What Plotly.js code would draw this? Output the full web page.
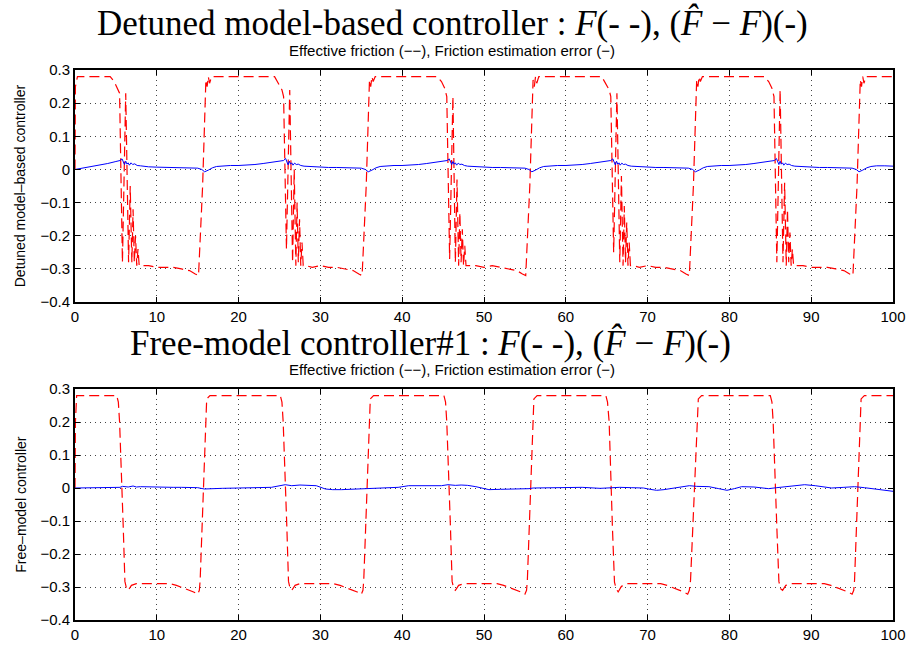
<!DOCTYPE html>
<html>
<head>
<meta charset="utf-8">
<script src="https://cdn.plot.ly/plotly-3.0.1.min.js"></script>
<style>html,body{margin:0;padding:0;background:#fff;}#chart{width:911px;height:647px;}</style>
</head>
<body>
<div id="chart"></div>
<script>
// ---------- Tick definitions ----------
const xTicks = [0, 10, 20, 30, 40, 50, 60, 70, 80, 90, 100];
const xTickText = ['0', '10', '20', '30', '40', '50', '60', '70', '80', '90', '100'];
const yTicks = [-0.4, -0.3, -0.2, -0.1, 0, 0.1, 0.2, 0.3];
const yTickText = ['\u22120.4', '\u22120.3', '\u22120.2', '\u22120.1', '0', '0.1', '0.2', '0.3'];

// ---------- Top: detuned model-based controller, effective friction F (dashed red) ----------
const topFrictionT = [
  0, 0.05, 0.3, 4.3, 4.8, 5.2, 5.45, 5.8, 6.2, 6.55, 6.75, 6.95, 7.1, 7.25, 7.4, 7.55, 7.7, 7.85, 8.1, 9, 10, 11, 12, 13, 14, 14.7, 15.1, 15.6, 16.0, 16.15, 16.3, 16.45, 16.7,
  24.4, 24.9, 25.3, 25.5, 25.85, 26.25, 26.6, 26.8, 27.0, 27.15, 27.3, 27.45, 27.6, 27.75, 27.9, 28.2, 29, 30, 31, 32, 33, 34, 34.7, 35.1, 35.6, 36.0, 36.15, 36.3, 36.45, 36.7,
  44.3, 44.8, 45.2, 45.45, 45.8, 46.2, 46.5, 46.7, 46.9, 47.05, 47.2, 47.35, 47.5, 47.65, 47.8, 48.1, 49, 50, 51, 52, 53, 54, 54.7, 55.1, 55.6, 56.0, 56.15, 56.3, 56.45, 56.7,
  64.4, 64.9, 65.3, 65.5, 65.85, 66.25, 66.6, 66.8, 67.0, 67.15, 67.3, 67.45, 67.6, 67.75, 67.9, 68.2, 69, 70, 71, 72, 73, 74, 74.7, 75.1, 75.6, 76.0, 76.15, 76.3, 76.45, 76.7,
  84.3, 84.8, 85.2, 85.45, 85.8, 86.2, 86.55, 86.75, 86.95, 87.1, 87.25, 87.4, 87.55, 87.7, 87.85, 88.1, 89, 90, 91, 92, 93, 94, 94.7, 95.1, 95.6, 96.0, 96.15, 96.3, 96.45, 96.7, 100
];
const topFrictionF = [
  0, 0.25, 0.28, 0.28, 0.265, 0.245, 0.23, -0.28, 0.23, -0.28, -0.05, -0.28, -0.12, -0.28, -0.2, -0.29, -0.24, -0.29, -0.29, -0.29, -0.295, -0.295, -0.295, -0.3, -0.305, -0.315, -0.32, -0.05, 0.27, 0.25, 0.28, 0.26, 0.28,
  0.28, 0.26, 0.24, 0.22, -0.24, 0.24, -0.28, 0.0, -0.29, -0.1, -0.28, -0.15, -0.29, -0.22, -0.29, -0.29, -0.295, -0.29, -0.295, -0.295, -0.3, -0.305, -0.315, -0.32, -0.05, 0.27, 0.25, 0.28, 0.265, 0.28,
  0.28, 0.265, 0.245, 0.22, -0.27, 0.22, -0.28, -0.03, -0.29, -0.13, -0.28, -0.18, -0.29, -0.23, -0.29, -0.29, -0.29, -0.295, -0.29, -0.295, -0.3, -0.305, -0.315, -0.32, -0.05, 0.27, 0.25, 0.28, 0.26, 0.28,
  0.28, 0.26, 0.24, 0.22, -0.25, 0.23, -0.28, -0.02, -0.29, -0.11, -0.28, -0.16, -0.29, -0.22, -0.29, -0.29, -0.295, -0.29, -0.295, -0.295, -0.3, -0.305, -0.315, -0.32, -0.05, 0.27, 0.25, 0.28, 0.265, 0.28,
  0.28, 0.265, 0.245, 0.22, -0.28, 0.24, -0.28, -0.04, -0.29, -0.12, -0.28, -0.19, -0.29, -0.24, -0.29, -0.29, -0.29, -0.295, -0.295, -0.295, -0.3, -0.305, -0.315, -0.32, -0.05, 0.27, 0.25, 0.28, 0.26, 0.28, 0.28
];

// ---------- Top: friction estimation error (solid blue) ----------
const topErrorT = [
  0, 1, 2, 3, 4, 5, 5.5, 5.75, 5.9, 6.05, 6.2, 6.35, 6.5, 6.65, 6.85, 7.05, 7.3, 7.6, 8, 8.5, 9, 10, 11, 12, 13, 14, 15, 15.5, 15.85, 16.3, 16.8, 17.3, 18, 19, 20,
  21, 22, 23, 24, 25, 25.5, 25.75, 25.9, 26.05, 26.2, 26.35, 26.5, 26.65, 26.85, 27.05, 27.3, 27.6, 28, 29, 30, 31, 32, 33, 34, 35, 35.5, 35.85, 36.3, 36.8, 37.3, 38, 39, 40,
  41, 42, 43, 44, 45, 45.5, 45.75, 45.9, 46.05, 46.2, 46.35, 46.5, 46.65, 46.85, 47.05, 47.3, 47.6, 48, 49, 50, 51, 52, 53, 54, 55, 55.5, 55.85, 56.3, 56.8, 57.3, 58, 59, 60,
  61, 62, 63, 64, 65, 65.5, 65.75, 65.9, 66.05, 66.2, 66.35, 66.5, 66.65, 66.85, 67.05, 67.3, 67.6, 68, 69, 70, 71, 72, 73, 74, 75, 75.5, 75.85, 76.3, 76.8, 77.3, 78, 79, 80,
  81, 82, 83, 84, 85, 85.5, 85.75, 85.9, 86.05, 86.2, 86.35, 86.5, 86.65, 86.85, 87.05, 87.3, 87.6, 88, 89, 90, 91, 92, 93, 94, 95, 95.5, 95.85, 96.3, 96.8, 97.3, 98, 99, 100
];
const topErrorE = [
  0, 0.004, 0.008, 0.013, 0.018, 0.024, 0.027, 0.032, 0.02, 0.015, 0.025, 0.016, 0.02, 0.013, 0.02, 0.015, 0.017, 0.012, 0.011, 0.009, 0.008, 0.007, 0.006, 0.006, 0.005, 0.005, 0.004, 0.0, -0.007, -0.002, 0.005, 0.009, 0.011, 0.012, 0.012,
  0.013, 0.015, 0.018, 0.022, 0.025, 0.027, 0.033, 0.02, 0.014, 0.025, 0.016, 0.02, 0.013, 0.019, 0.015, 0.016, 0.012, 0.01, 0.008, 0.007, 0.006, 0.006, 0.005, 0.005, 0.004, 0.0, -0.007, -0.002, 0.005, 0.009, 0.011, 0.012, 0.012,
  0.013, 0.015, 0.018, 0.022, 0.025, 0.027, 0.032, 0.02, 0.015, 0.024, 0.016, 0.02, 0.013, 0.019, 0.015, 0.016, 0.012, 0.01, 0.008, 0.007, 0.006, 0.006, 0.005, 0.005, 0.004, 0.0, -0.007, -0.002, 0.005, 0.009, 0.011, 0.012, 0.012,
  0.013, 0.015, 0.018, 0.022, 0.025, 0.027, 0.032, 0.02, 0.014, 0.025, 0.016, 0.02, 0.013, 0.019, 0.015, 0.016, 0.012, 0.01, 0.008, 0.007, 0.006, 0.006, 0.005, 0.005, 0.004, 0.0, -0.007, -0.002, 0.005, 0.009, 0.011, 0.012, 0.012,
  0.013, 0.015, 0.018, 0.022, 0.025, 0.027, 0.033, 0.02, 0.015, 0.025, 0.016, 0.02, 0.013, 0.019, 0.015, 0.016, 0.012, 0.01, 0.008, 0.007, 0.006, 0.006, 0.005, 0.005, 0.004, 0.0, -0.007, -0.002, 0.005, 0.009, 0.011, 0.011, 0.01
];

// ---------- Bottom: free-model controller #1, effective friction F (dashed red) ----------
const botFrictionT = [
  0, 0.05, 0.2, 5.1, 5.3, 5.45, 5.9, 6.1, 6.3, 6.5, 6.9, 7.5, 8, 10, 11.6, 12.4, 13.5, 14.5, 15.0, 15.2, 15.3, 15.7, 16.1, 16.5,
  25.1, 25.3, 25.45, 25.9, 26.1, 26.3, 26.5, 26.9, 27.5, 28, 30, 31.6, 32.4, 33.5, 34.5, 35.0, 35.2, 35.3, 35.7, 36.1, 36.5,
  45.1, 45.3, 45.45, 45.9, 46.1, 46.3, 46.5, 46.9, 47.5, 48, 50, 51.6, 52.4, 53.5, 54.5, 55.0, 55.2, 55.3, 55.7, 56.1, 56.5,
  64.9, 65.1, 65.3, 65.7, 65.95, 66.15, 66.4, 66.8, 67.5, 68, 70, 71.6, 72.4, 73.5, 74.4, 74.9, 75.1, 75.25, 75.7, 76.2, 76.6,
  85.0, 85.2, 85.35, 85.8, 86.05, 86.25, 86.5, 86.9, 87.5, 88, 90, 91.6, 92.4, 93.5, 94.5, 95.0, 95.2, 95.3, 95.7, 96.1, 96.5, 100
];
const botFrictionF = [
  0, 0.2, 0.28, 0.28, 0.26, 0.2, -0.12, -0.283, -0.305, -0.31, -0.295, -0.29, -0.29, -0.29, -0.29, -0.295, -0.305, -0.315, -0.322, -0.31, -0.28, -0.02, 0.27, 0.28,
  0.28, 0.26, 0.2, -0.12, -0.283, -0.305, -0.31, -0.295, -0.29, -0.29, -0.29, -0.29, -0.295, -0.305, -0.315, -0.322, -0.31, -0.28, -0.02, 0.27, 0.28,
  0.28, 0.26, 0.2, -0.12, -0.283, -0.305, -0.31, -0.295, -0.29, -0.29, -0.29, -0.29, -0.295, -0.305, -0.315, -0.322, -0.31, -0.28, -0.02, 0.27, 0.28,
  0.28, 0.26, 0.2, -0.12, -0.285, -0.305, -0.315, -0.298, -0.29, -0.29, -0.29, -0.29, -0.295, -0.305, -0.315, -0.322, -0.31, -0.28, -0.02, 0.27, 0.28,
  0.28, 0.26, 0.2, -0.12, -0.283, -0.305, -0.31, -0.295, -0.29, -0.29, -0.29, -0.29, -0.295, -0.305, -0.315, -0.322, -0.31, -0.28, -0.02, 0.27, 0.28, 0.28
];

// ---------- Bottom: friction estimation error (solid blue) ----------
const botErrorT = [
  0, 2, 4, 5.5, 5.8, 6.5, 7.1, 7.5, 8, 9, 10, 11, 12, 13, 14, 15, 15.8, 16.5, 18, 20, 22, 24, 25.7, 26.5, 27.5, 28.5, 29.5, 30.6, 31.5, 32.6, 33.5, 34.5, 35.5, 36.7, 38, 39.5,
  40.8, 42, 43, 44.8, 45.6, 46.5, 47.2, 48, 49, 50.6, 52, 54, 55.5, 56, 58, 60, 62, 64.2, 66.6, 68, 69.5, 70.3, 71.1, 72, 73.1, 74, 75.1, 76, 77.5, 78.7, 79.7, 80.6,
  81.5, 83, 84.8, 85.8, 86.8, 88, 89.2, 90.5, 91.5, 92.5, 94, 95.3, 96.5, 97.7, 99, 100
];
const botErrorE = [
  0, 0, 0, 0.002, 0.005, 0.003, 0.006, 0.003, 0.004, 0.003, 0.002, 0.003, 0.002, 0.002, 0.002, 0.001, -0.003, -0.002, -0.001, 0, 0, 0.002, 0.01, 0.007, 0.009, 0.008, 0.007, -0.003, -0.005, -0.005, -0.004, -0.004, -0.003, 0, 0, 0.002,
  0.007, 0.007, 0.007, 0.007, 0.01, 0.008, 0.009, 0.008, 0.004, -0.005, -0.004, -0.004, -0.002, 0, 0.001, 0.003, 0.002, -0.001, 0.002, 0.001, 0, -0.004, -0.007, -0.005, 0, 0.004, 0.007, 0.005, 0.004, -0.002, -0.007, -0.002,
  0.004, 0.003, -0.002, 0.001, 0.004, 0.006, 0.01, 0.007, 0.004, 0, 0.002, 0.004, 0.001, -0.003, -0.008, -0.01
];

// ---------- Plot ----------
const red = '#ff0000', blue = '#0000ff';
const traces = [
  {x: topFrictionT, y: topFrictionF, xaxis: 'x', yaxis: 'y', mode: 'lines', line: {color: red, width: 1.2, dash: '10px,5px'}, hoverinfo: 'skip'},
  {x: topErrorT, y: topErrorE, xaxis: 'x', yaxis: 'y', mode: 'lines', line: {color: blue, width: 1}, hoverinfo: 'skip'},
  {x: botFrictionT, y: botFrictionF, xaxis: 'x2', yaxis: 'y2', mode: 'lines', line: {color: red, width: 1.2, dash: '10px,5px'}, hoverinfo: 'skip'},
  {x: botErrorT, y: botErrorE, xaxis: 'x2', yaxis: 'y2', mode: 'lines', line: {color: blue, width: 1}, hoverinfo: 'skip'}
];

const tickFont = {family: 'Liberation Sans, Arial, sans-serif', size: 15, color: '#000'};
function xAx(anchor) {
  return {anchor: anchor, domain: [0, 1], range: [0, 100], tickvals: xTicks, ticktext: xTickText,
    ticks: 'inside', ticklen: 5, tickcolor: '#000', tickwidth: 1, showline: true, linecolor: '#000', linewidth: 2,
    mirror: 'ticks', showgrid: true, gridcolor: '#444', griddash: '1px,4px', gridwidth: 1, zeroline: false,
    tickfont: tickFont, fixedrange: true};
}
function yAx(anchor, domain) {
  return {anchor: anchor, domain: domain, range: [-0.4, 0.3], tickvals: yTicks, ticktext: yTickText,
    ticks: 'inside', ticklen: 5, tickcolor: '#000', tickwidth: 1, showline: true, linecolor: '#000', linewidth: 2,
    mirror: 'ticks', showgrid: true, gridcolor: '#444', griddash: '1px,4px', gridwidth: 1, zeroline: false,
    tickfont: tickFont, fixedrange: true};
}

const serif = {family: 'Liberation Serif, Times New Roman, serif', size: 35, color: '#000'};
const sans = {family: 'Liberation Sans, Arial, sans-serif', size: 15, color: '#000'};
const layout = {
  width: 911, height: 647,
  margin: {l: 75, r: 18, t: 70, b: 27},
  paper_bgcolor: '#fff', plot_bgcolor: '#fff',
  showlegend: false,
  xaxis: xAx('y'), yaxis: yAx('x', [0.578, 1]),
  xaxis2: xAx('y2'), yaxis2: yAx('x2', [0, 0.42]),
  annotations: [
    {xref: 'paper', yref: 'paper', x: 0.461, y: 1.0855, xanchor: 'center', yanchor: 'middle', showarrow: false, font: serif,
     text: 'Detuned model-based controller : <i>F</i>(- -), (<i>F\u0302</i> \u2212 <i>F</i>)(-)'},
    {xref: 'paper', yref: 'paper', x: 0.461, y: 1.035, xanchor: 'center', yanchor: 'middle', showarrow: false, font: sans,
     text: 'Effective friction (\u2212\u2212), Friction estimation error (\u2212)'},
    {xref: 'paper', yref: 'paper', x: 0.434, y: 0.504, xanchor: 'center', yanchor: 'middle', showarrow: false, font: serif,
     text: 'Free-model controller#1 : <i>F</i>(- -), (<i>F\u0302</i> \u2212 <i>F</i>)(-)'},
    {xref: 'paper', yref: 'paper', x: 0.461, y: 0.455, xanchor: 'center', yanchor: 'middle', showarrow: false, font: sans,
     text: 'Effective friction (\u2212\u2212), Friction estimation error (\u2212)'},
    {xref: 'paper', yref: 'paper', x: -0.067, y: 0.789, xanchor: 'center', yanchor: 'middle', textangle: -90, showarrow: false, font: {family: 'Liberation Sans, Arial, sans-serif', size: 14, color: '#000'},
     text: 'Detuned model\u2013based controller'},
    {xref: 'paper', yref: 'paper', x: -0.067, y: 0.21, xanchor: 'center', yanchor: 'middle', textangle: -90, showarrow: false, font: {family: 'Liberation Sans, Arial, sans-serif', size: 14, color: '#000'},
     text: 'Free\u2013model controller'}
  ]
};

Plotly.newPlot('chart', traces, layout, {displayModeBar: false, staticPlot: true});
</script>
</body>
</html>
